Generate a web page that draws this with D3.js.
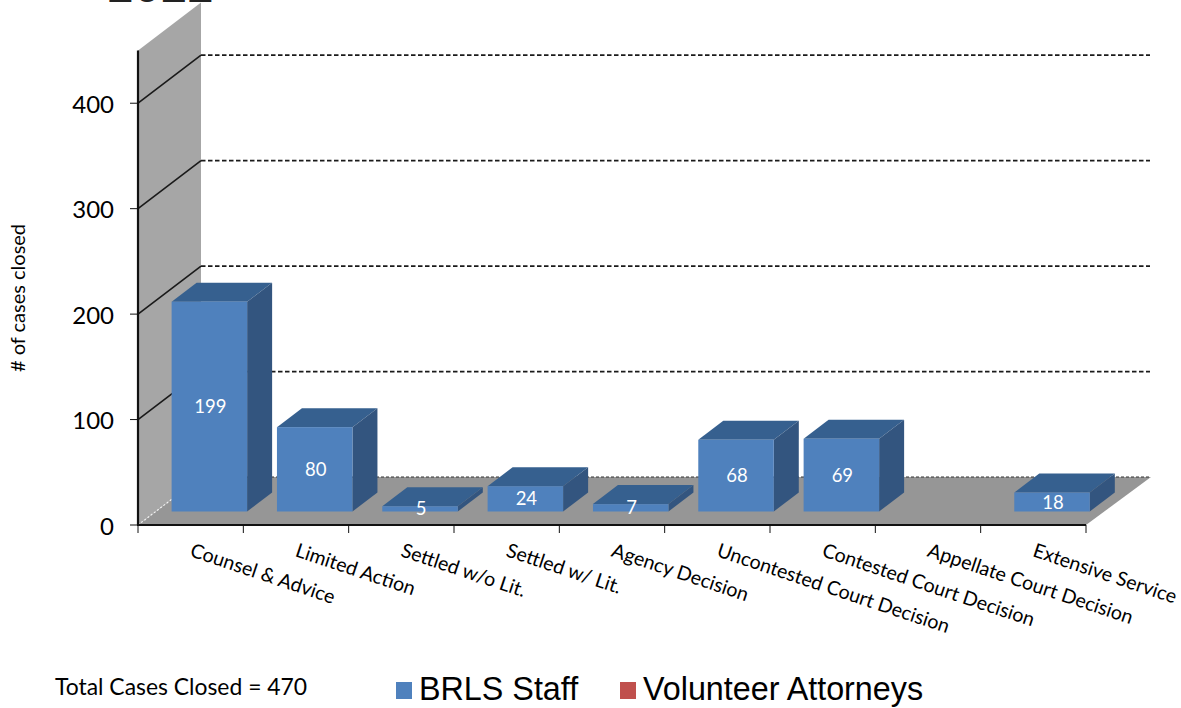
<!DOCTYPE html>
<html><head><meta charset="utf-8">
<script src="https://cdn.jsdelivr.net/npm/d3@7"></script>
<style>html,body{margin:0;padding:0;background:#fff}svg{display:block}</style></head>
<body><svg id="c" width="1181" height="708"></svg>
<script>
const categories=["Counsel & Advice","Limited Action","Settled w/o Lit.","Settled w/ Lit.","Agency Decision","Uncontested Court Decision","Contested Court Decision","Appellate Court Decision","Extensive Service"];
const brlsStaff=[199,80,5,24,7,68,69,0,18];
const volunteerAttorneys=[0,0,0,0,0,0,0,0,0];
const yTicks=[0,100,200,300,400];
const gridValues=[0,100,200,300,400];
const yMax=450;
const titleText="2022";
const yAxisTitle="# of cases closed";
const totalText="Total Cases Closed = 470";
const legendNames=["BRLS Staff","Volunteer Attorneys"];
const legendColors=["#4f81bd","#c0504d"];

const svg=d3.select("#c");
const font="Lato,'Open Sans',sans-serif";
const x=d3.scaleBand().domain(categories).range([138,1086]).paddingInner(0).paddingOuter(0);
const y=d3.scaleLinear().domain([0,yMax]).range([525,50.5]);
const depth={x:63,y:-48};
const barDepth={x:25,y:-19};
const barWidth=75.5;
const barShift={x:18.7,y:-13.5};
const poly=p=>p.map(d=>d.join(",")).join(" ");

svg.append("text").attr("x",107).attr("y",2).attr("font-family","'Liberation Sans',sans-serif").attr("font-size",48).attr("fill","#222").text(titleText);

// wall and floor
svg.append("polygon").attr("fill","#a6a6a6").attr("points",poly([[x.range()[0],y(0)],[x.range()[0],y(yMax)],[x.range()[0]+depth.x,y(yMax)+depth.y],[x.range()[0]+depth.x,y(0)+depth.y]]));
svg.append("polygon").attr("fill","#969696").attr("points",poly([[x.range()[0],y(0)],[x.range()[1],y(0)],[x.range()[1]+depth.x+2,y(0)+depth.y],[x.range()[0]+depth.x,y(0)+depth.y]]));

// gridlines
gridValues.forEach(v=>{
  const c=v===0?"#f2f2f2":"#1a1a1a";
  svg.append("line").attr("x1",x.range()[0]).attr("y1",y(v)).attr("x2",x.range()[0]+depth.x).attr("y2",y(v)+depth.y)
    .attr("stroke",c).attr("stroke-width",v===0?1.2:1.6).attr("stroke-dasharray",v===0?"2,2":null);
  svg.append("line").attr("x1",x.range()[0]+depth.x).attr("y1",y(v)+depth.y).attr("x2",1150).attr("y2",y(v)+depth.y)
    .attr("stroke",v===0?"#333":"#1a1a1a").attr("stroke-width",v===0?1:1.8).attr("stroke-dasharray",v===0?"3,2":"4.5,2.5");
});

// bars
const bars=categories.map((c,i)=>({c,v:brlsStaff[i]})).filter(d=>d.v>0);
const g=svg.append("g").selectAll("g").data(bars).join("g");
const bx=d=>x(d.c)+(x.bandwidth()-barWidth)/2+barShift.x;
const by0=y(0)+barShift.y;
const byT=d=>y(d.v)+barShift.y;
g.append("polygon").attr("fill","#36608f").attr("points",d=>poly([[bx(d),byT(d)],[bx(d)+barDepth.x,byT(d)+barDepth.y],[bx(d)+barWidth+barDepth.x,byT(d)+barDepth.y],[bx(d)+barWidth,byT(d)]]));
g.append("polygon").attr("fill","#33557f").attr("points",d=>poly([[bx(d)+barWidth,byT(d)],[bx(d)+barWidth+barDepth.x,byT(d)+barDepth.y],[bx(d)+barWidth+barDepth.x,by0+barDepth.y],[bx(d)+barWidth,by0]]));
g.append("rect").attr("fill","#4f81bd").attr("x",bx).attr("y",byT).attr("width",barWidth).attr("height",d=>by0-byT(d));
g.append("text").attr("x",d=>bx(d)+barWidth/2+1).attr("y",d=>(by0+byT(d))/2+6.5).attr("text-anchor","middle")
  .attr("font-family",font).attr("font-size",18.5).attr("fill","#fff").text(d=>d.v);

// axes
svg.append("line").attr("x1",x.range()[0]).attr("y1",y(0)).attr("x2",x.range()[0]).attr("y2",y(yMax)).attr("stroke","#111").attr("stroke-width",2.2);
svg.append("line").attr("x1",x.range()[0]-1).attr("y1",y(0)).attr("x2",x.range()[1]).attr("y2",y(0)).attr("stroke","#111").attr("stroke-width",2.2);
const xEdges=categories.map(c=>x(c)).concat([x.range()[1]]);
svg.append("g").selectAll("line").data(xEdges).join("line").attr("x1",d=>d).attr("x2",d=>d).attr("y1",y(0)).attr("y2",y(0)+8).attr("stroke","#111").attr("stroke-width",1);
svg.append("g").selectAll("line").data(yTicks).join("line").attr("x1",130).attr("x2",138).attr("y1",d=>y(d)).attr("y2",d=>y(d)).attr("stroke","#111").attr("stroke-width",1);
svg.append("g").selectAll("text").data(yTicks).join("text").attr("x",114).attr("y",d=>y(d)+9.5).attr("text-anchor","end")
  .attr("font-family",font).attr("font-size",24).attr("fill","#000").text(d=>d);

// category labels
svg.append("g").selectAll("text").data(categories).join("text")
  .attr("transform",d=>`translate(${x(d)+51},556) rotate(18.5)`)
  .attr("font-family",font).attr("font-size",19.6).attr("fill","#000").text(d=>d);

svg.append("text").attr("transform","translate(25,298) rotate(-90)").attr("text-anchor","middle")
  .attr("font-family",font).attr("font-size",20).attr("fill","#000").text(yAxisTitle);
svg.append("text").attr("x",55).attr("y",695).attr("font-family",font).attr("font-size",22.9).attr("fill","#000").text(totalText);

// legend
const legendSwatchX=[396,620];
const legendLabelX=[419,643];
legendNames.forEach((n,i)=>{
  svg.append("rect").attr("x",legendSwatchX[i]).attr("y",682).attr("width",16).attr("height",17).attr("fill",legendColors[i]);
  svg.append("text").attr("x",legendLabelX[i]).attr("y",700).attr("font-family","'Liberation Sans',sans-serif").attr("font-size",32.3).attr("fill","#000").text(n);
});
</script></body></html>
